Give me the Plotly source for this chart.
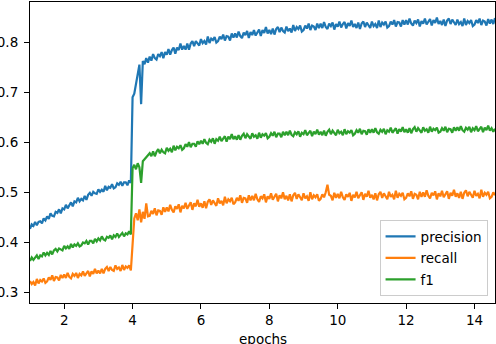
import plotly.graph_objects as go

FONT = "'DejaVu Sans', sans-serif"

EPOCH_START = 1.0
EPOCH_STEP = 0.05

X_TICKS = [2, 4, 6, 8, 10, 12, 14]
Y_TICKS = [0.3, 0.4, 0.5, 0.6, 0.7, 0.8]

precision = [
    0.427, 0.436, 0.433, 0.441, 0.434, 0.441, 0.442, 0.438, 0.448, 0.444,
    0.452, 0.447, 0.458, 0.453, 0.452, 0.461, 0.459, 0.466, 0.458, 0.468,
    0.466, 0.475, 0.468, 0.475, 0.480, 0.472, 0.482, 0.480, 0.489, 0.482,
    0.487, 0.484, 0.493, 0.485, 0.495, 0.499, 0.493, 0.501, 0.498, 0.497,
    0.506, 0.501, 0.505, 0.501, 0.513, 0.504, 0.511, 0.509, 0.516, 0.508,
    0.510, 0.518, 0.515, 0.521, 0.513, 0.520, 0.520, 0.514, 0.524, 0.519,
    0.690, 0.697, 0.718, 0.742, 0.755, 0.676, 0.762, 0.756, 0.768, 0.759,
    0.771, 0.763, 0.776, 0.768, 0.765, 0.776, 0.772, 0.780, 0.768, 0.780,
    0.775, 0.786, 0.775, 0.784, 0.789, 0.777, 0.789, 0.784, 0.797, 0.785,
    0.792, 0.785, 0.797, 0.785, 0.797, 0.802, 0.792, 0.802, 0.796, 0.793,
    0.806, 0.798, 0.802, 0.795, 0.811, 0.798, 0.807, 0.804, 0.810, 0.799,
    0.802, 0.811, 0.806, 0.815, 0.803, 0.812, 0.811, 0.803, 0.817, 0.809,
    0.817, 0.809, 0.821, 0.812, 0.808, 0.819, 0.814, 0.822, 0.808, 0.820,
    0.814, 0.824, 0.813, 0.820, 0.825, 0.812, 0.824, 0.818, 0.830, 0.817,
    0.824, 0.816, 0.827, 0.815, 0.826, 0.830, 0.820, 0.829, 0.822, 0.819,
    0.831, 0.822, 0.827, 0.819, 0.834, 0.822, 0.830, 0.826, 0.833, 0.821,
    0.824, 0.833, 0.827, 0.837, 0.824, 0.833, 0.831, 0.824, 0.837, 0.828,
    0.837, 0.828, 0.840, 0.830, 0.826, 0.837, 0.832, 0.839, 0.825, 0.836,
    0.831, 0.841, 0.829, 0.836, 0.840, 0.827, 0.838, 0.832, 0.843, 0.830,
    0.836, 0.828, 0.839, 0.826, 0.837, 0.841, 0.830, 0.839, 0.832, 0.828,
    0.841, 0.832, 0.836, 0.828, 0.843, 0.830, 0.839, 0.835, 0.841, 0.829,
    0.832, 0.841, 0.835, 0.844, 0.831, 0.840, 0.839, 0.831, 0.844, 0.835,
    0.844, 0.835, 0.847, 0.837, 0.833, 0.843, 0.838, 0.845, 0.831, 0.842,
    0.837, 0.847, 0.835, 0.842, 0.846, 0.833, 0.844, 0.838, 0.849, 0.836,
    0.842, 0.834, 0.845, 0.832, 0.843, 0.847, 0.836, 0.845, 0.838, 0.834,
    0.845, 0.836, 0.840, 0.832, 0.847, 0.834, 0.842, 0.838, 0.844, 0.832,
    0.835, 0.844, 0.838, 0.847, 0.834, 0.843, 0.841, 0.833, 0.846, 0.837,
    0.845, 0.836, 0.848,
]

recall = [
    0.323, 0.317, 0.321, 0.314, 0.327, 0.318, 0.325, 0.322, 0.328, 0.319,
    0.322, 0.330, 0.325, 0.334, 0.323, 0.331, 0.330, 0.324, 0.335, 0.329,
    0.336, 0.329, 0.339, 0.331, 0.328, 0.337, 0.333, 0.339, 0.329, 0.337,
    0.334, 0.342, 0.333, 0.339, 0.343, 0.332, 0.342, 0.337, 0.347, 0.338,
    0.344, 0.338, 0.347, 0.338, 0.347, 0.351, 0.343, 0.351, 0.345, 0.343,
    0.354, 0.347, 0.350, 0.343, 0.355, 0.345, 0.352, 0.349, 0.354, 0.344,
    0.400, 0.448, 0.458, 0.444, 0.466, 0.440, 0.461, 0.447, 0.478, 0.452,
    0.453, 0.463, 0.457, 0.468, 0.454, 0.464, 0.463, 0.455, 0.470, 0.461,
    0.470, 0.462, 0.475, 0.465, 0.460, 0.472, 0.467, 0.476, 0.460, 0.473,
    0.468, 0.479, 0.467, 0.474, 0.480, 0.465, 0.478, 0.472, 0.485, 0.471,
    0.478, 0.469, 0.482, 0.468, 0.481, 0.486, 0.475, 0.484, 0.478, 0.473,
    0.488, 0.478, 0.483, 0.474, 0.491, 0.478, 0.486, 0.482, 0.489, 0.476,
    0.480, 0.489, 0.483, 0.494, 0.479, 0.489, 0.488, 0.479, 0.494, 0.484,
    0.493, 0.484, 0.497, 0.486, 0.481, 0.492, 0.488, 0.496, 0.480, 0.492,
    0.487, 0.498, 0.485, 0.492, 0.497, 0.482, 0.494, 0.488, 0.500, 0.486,
    0.493, 0.484, 0.496, 0.482, 0.494, 0.499, 0.487, 0.496, 0.489, 0.484,
    0.498, 0.488, 0.492, 0.483, 0.500, 0.486, 0.494, 0.490, 0.496, 0.483,
    0.487, 0.496, 0.490, 0.500, 0.515, 0.495, 0.493, 0.484, 0.499, 0.489,
    0.497, 0.488, 0.501, 0.490, 0.485, 0.496, 0.491, 0.499, 0.483, 0.495,
    0.490, 0.501, 0.488, 0.495, 0.500, 0.485, 0.497, 0.491, 0.503, 0.489,
    0.495, 0.486, 0.498, 0.484, 0.496, 0.501, 0.489, 0.498, 0.491, 0.486,
    0.501, 0.491, 0.495, 0.486, 0.503, 0.489, 0.497, 0.493, 0.499, 0.486,
    0.489, 0.498, 0.492, 0.502, 0.487, 0.497, 0.495, 0.486, 0.501, 0.491,
    0.500, 0.491, 0.504, 0.493, 0.488, 0.499, 0.494, 0.502, 0.486, 0.498,
    0.492, 0.503, 0.490, 0.497, 0.502, 0.487, 0.499, 0.493, 0.505, 0.491,
    0.498, 0.489, 0.501, 0.487, 0.499, 0.504, 0.492, 0.501, 0.494, 0.489,
    0.503, 0.493, 0.497, 0.488, 0.505, 0.491, 0.499, 0.495, 0.501, 0.488,
    0.491, 0.500, 0.494,
]

f1 = [
    0.363, 0.370, 0.365, 0.370, 0.374, 0.367, 0.374, 0.372, 0.380, 0.374,
    0.379, 0.375, 0.383, 0.376, 0.384, 0.387, 0.382, 0.388, 0.386, 0.384,
    0.393, 0.388, 0.392, 0.387, 0.397, 0.390, 0.396, 0.393, 0.398, 0.392,
    0.394, 0.400, 0.398, 0.403, 0.396, 0.403, 0.403, 0.398, 0.407, 0.402,
    0.408, 0.404, 0.412, 0.406, 0.404, 0.411, 0.409, 0.414, 0.406, 0.414,
    0.411, 0.418, 0.411, 0.416, 0.419, 0.412, 0.418, 0.416, 0.422, 0.416,
    0.548, 0.555, 0.546, 0.558, 0.550, 0.519, 0.562, 0.566, 0.571, 0.574,
    0.578, 0.572, 0.582, 0.572, 0.581, 0.586, 0.578, 0.585, 0.580, 0.578,
    0.589, 0.583, 0.587, 0.580, 0.593, 0.584, 0.591, 0.588, 0.594, 0.585,
    0.588, 0.596, 0.591, 0.600, 0.590, 0.597, 0.597, 0.591, 0.602, 0.596,
    0.603, 0.597, 0.606, 0.599, 0.596, 0.605, 0.601, 0.608, 0.597, 0.606,
    0.603, 0.611, 0.602, 0.608, 0.612, 0.601, 0.611, 0.606, 0.616, 0.606,
    0.612, 0.605, 0.614, 0.605, 0.613, 0.617, 0.608, 0.616, 0.610, 0.607,
    0.618, 0.611, 0.614, 0.607, 0.619, 0.609, 0.616, 0.613, 0.618, 0.608,
    0.611, 0.618, 0.613, 0.621, 0.610, 0.617, 0.617, 0.610, 0.621, 0.614,
    0.621, 0.614, 0.623, 0.615, 0.612, 0.620, 0.616, 0.622, 0.611, 0.619,
    0.616, 0.624, 0.614, 0.620, 0.623, 0.612, 0.621, 0.616, 0.625, 0.615,
    0.621, 0.614, 0.623, 0.613, 0.621, 0.625, 0.616, 0.623, 0.617, 0.614,
    0.625, 0.618, 0.621, 0.614, 0.626, 0.616, 0.622, 0.619, 0.624, 0.614,
    0.617, 0.624, 0.619, 0.627, 0.616, 0.623, 0.622, 0.615, 0.626, 0.619,
    0.626, 0.619, 0.628, 0.620, 0.617, 0.625, 0.621, 0.627, 0.616, 0.624,
    0.621, 0.629, 0.619, 0.625, 0.628, 0.617, 0.626, 0.621, 0.630, 0.620,
    0.626, 0.619, 0.628, 0.618, 0.626, 0.630, 0.621, 0.628, 0.622, 0.619,
    0.630, 0.623, 0.626, 0.619, 0.631, 0.621, 0.627, 0.624, 0.629, 0.619,
    0.621, 0.628, 0.623, 0.631, 0.620, 0.627, 0.626, 0.619, 0.630, 0.623,
    0.630, 0.623, 0.632, 0.624, 0.621, 0.629, 0.625, 0.631, 0.620, 0.628,
    0.624, 0.632, 0.622, 0.628, 0.631, 0.620, 0.629, 0.624, 0.633, 0.623,
    0.628, 0.621, 0.627,
]

SERIES = [
    ("precision", precision, "#1f77b4"),
    ("recall", recall, "#ff7f0e"),
    ("f1", f1, "#2ca02c"),
]

AXIS_STYLE = dict(
    showgrid=False,
    zeroline=False,
    showline=True,
    mirror=True,
    linecolor="black",
    linewidth=1.1,
    ticks="outside",
    ticklen=5,
    tickwidth=1.1,
    tickcolor="black",
    tickfont={"family": FONT, "size": 13.5, "color": "black"},
    automargin=False,
)

CHART_LAYOUT = dict(
    width=496,
    height=344,
    paper_bgcolor="white",
    plot_bgcolor="white",
    font={"family": FONT, "size": 13.5, "color": "black"},
    margin={"l": 30, "r": 1, "t": 2, "b": 41},
    xaxis=dict(
        AXIS_STYLE,
        range=[1.0, 14.6],
        tickvals=X_TICKS,
    ),
    yaxis=dict(
        AXIS_STYLE,
        range=[0.279, 0.880],
        tickvals=Y_TICKS,
        tickformat=".1f",
        ticklabelstandoff=3,
    ),
    legend=dict(
        x=0.984,
        y=0.023,
        xanchor="right",
        yanchor="bottom",
        bgcolor="rgba(255,255,255,0.8)",
        bordercolor="#cccccc",
        borderwidth=1,
        traceorder="grouped",
        tracegroupgap=1,
        font={"family": FONT, "size": 13.5, "color": "black"},
    ),
    # x label sits partly below the page edge, as in the original export
    annotations=[
        dict(
            text="epochs",
            xref="paper",
            yref="paper",
            x=0.5,
            y=-0.12,
            xanchor="center",
            yanchor="middle",
            showarrow=False,
            font={"family": FONT, "size": 13.5, "color": "black"},
        )
    ],
    showlegend=True,
)

fig = go.Figure(layout=CHART_LAYOUT)
for name, values, color in SERIES:
    fig.add_trace(
        go.Scatter(
            x0=EPOCH_START,
            dx=EPOCH_STEP,
            y=values,
            name=name,
            legendgroup=name,
            mode="lines",
            line={"color": color, "width": 2.2},
        )
    )

# page body has a default 8px margin; drop it so the figure sits at 0,0
fig.write_html(
    "out.html",
    config={"displayModeBar": False},
    post_script="document.body.style.margin='0';",
)
